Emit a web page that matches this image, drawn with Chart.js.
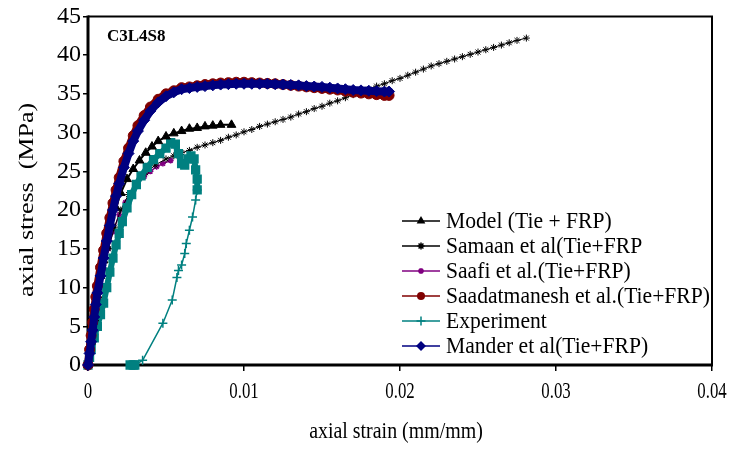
<!DOCTYPE html>
<html><head><meta charset="utf-8">
<script src="https://cdn.jsdelivr.net/npm/chart.js@4/dist/chart.umd.min.js"></script>
<style>html,body{margin:0;padding:0;background:#fff;}canvas{display:block;}</style>
</head><body>
<canvas id="c" width="745" height="450"></canvas>
<script>
// ---------- data ----------
const xTickValues = [0, 0.01, 0.02, 0.03, 0.04];
const xTickLabels = ['0', '0.01', '0.02', '0.03', '0.04'];
const yTickLabels = ['0','5','10','15','20','25','30','35','40','45'];

const modelStrain = [0,0.0002,0.0004,0.0006,0.0008,0.001,0.0012,0.0015,0.0018,0.0021,0.0025,0.0029,0.0033,0.0037,0.0041,0.0045,0.005,0.0055,0.006,0.0065,0.007,0.0075,0.008,0.0085,0.0092];
const modelStress = [0,3,6,9,11.5,13.5,15.3,18,20.3,22.2,24,25.3,26.4,27.4,28.2,28.9,29.5,29.9,30.2,30.5,30.6,30.8,30.9,31.0,31.0];

const samaanStrain = [0,0.0002,0.0004,0.0007,0.001,0.0013,0.0017,0.0021,0.0026,0.0031,0.0037,0.0043,0.005,0.0055,0.006,0.0065,0.007,0.0075,0.008,0.0085,0.009,0.0095,0.01,0.0105,0.011,0.0115,0.012,0.0125,0.013,0.0135,0.014,0.0145,0.015,0.0155,0.016,0.0165,0.017,0.0175,0.018,0.0185,0.019,0.0195,0.02,0.0205,0.021,0.0215,0.022,0.0225,0.023,0.0235,0.024,0.0245,0.025,0.0255,0.026,0.0265,0.027,0.0275,0.0281];
const samaanStress = [0,3,6,9.5,12.5,15,17.8,20,22,23.5,24.8,25.8,26.6,27.0,27.4,27.7,28.1,28.4,28.7,29.0,29.4,29.7,30.1,30.4,30.8,31.1,31.4,31.7,32.0,32.4,32.7,33.1,33.4,33.8,34.1,34.5,34.9,35.2,35.6,36.0,36.3,36.7,37.0,37.4,37.8,38.2,38.6,38.9,39.2,39.5,39.8,40.1,40.4,40.7,41.0,41.3,41.6,41.9,42.2];

const saafiStrain = [0,0.0001,0.0002,0.0004,0.0006,0.0008,0.001,0.0013,0.0016,0.002,0.0024,0.0028,0.0032,0.0036,0.004,0.0044,0.0048,0.0053];
const saafiStress = [0,1.5,3,5.5,8,10.3,12.4,15,17.2,19.4,21,22.3,23.4,24.3,25,25.6,26,26.4];

const saadStrain = [0,0.0001,0.0002,0.0003,0.0004,0.0005,0.0006,0.0008,0.001,0.0012,0.0014,0.0016,0.0018,0.002,0.0023,0.0026,0.0029,0.0032,0.0036,0.004,0.0045,0.005,0.0055,0.006,0.0065,0.007,0.0075,0.008,0.0085,0.009,0.0095,0.01,0.0105,0.011,0.0115,0.012,0.0125,0.013,0.0135,0.014,0.0145,0.015,0.0155,0.016,0.0165,0.017,0.0175,0.018,0.0185,0.019,0.0193];
const saadStress = [0,2,3.8,5.5,7.2,8.8,10.2,12.6,14.8,17,19,20.9,22.6,24.2,26.3,28,29.6,30.9,32.2,33.3,34.3,35.0,35.4,35.8,35.9,36.05,36.2,36.3,36.4,36.45,36.5,36.5,36.45,36.4,36.35,36.3,36.2,36.1,36.0,35.9,35.8,35.7,35.6,35.5,35.35,35.2,35.1,35.0,34.9,34.8,34.8];

const expLoadStrain = [0,0.0001,0.0002,0.0004,0.0006,0.0008,0.001,0.0012,0.0014,0.0016,0.0018,0.002,0.0022,0.0025,0.0028,0.0031,0.0034,0.0038,0.0042,0.0046,0.005,0.0053,0.0056,0.0058,0.006,0.0062,0.0064,0.0066,0.0068,0.0069,0.007,0.007];
const expLoadStress = [0,1,2,3.5,5,6.5,8,10,12,13.8,15.5,17,18.5,20.3,22,23.3,24.4,25.5,26.5,27.3,28,28.7,28.5,27.3,26.0,25.8,26.6,27.0,26.6,25.2,24,22.6];
const expUnloadStrain = [0.007,0.0069,0.0067,0.0065,0.0063,0.0062,0.006,0.0058,0.0057,0.0054,0.0048,0.0035,0.003];
const expUnloadStress = [22.6,21.3,19.1,17.4,15.7,14.4,12.9,12.2,11.3,8.4,5.4,0.6,0];
const expTailStrain = [0.003,0.0029,0.0027];
const expTailStress = [0,0,0];

const manderStrain = [0,0.0001,0.0002,0.0003,0.0004,0.0005,0.0006,0.0008,0.001,0.0012,0.0014,0.0016,0.0018,0.002,0.0023,0.0026,0.0029,0.0032,0.0036,0.004,0.0045,0.005,0.0055,0.006,0.0065,0.007,0.0075,0.008,0.0085,0.009,0.0095,0.01,0.0105,0.011,0.0115,0.012,0.0125,0.013,0.0135,0.014,0.0145,0.015,0.0155,0.016,0.0165,0.017,0.0175,0.018,0.0185,0.019,0.0193];
const manderStress = [0,1.5,3,4.5,6.2,7.8,9.3,11.5,13.8,16,18,20,21.8,23.4,25.5,27.3,28.9,30.2,31.6,32.8,33.9,34.7,35.2,35.6,35.75,35.9,36.0,36.1,36.2,36.25,36.3,36.3,36.3,36.3,36.3,36.25,36.2,36.15,36.1,36.0,35.95,35.9,35.8,35.7,35.6,35.5,35.45,35.4,35.35,35.3,35.3];

// ---------- build ----------
const xy = (xs, ys) => xs.map((x, i) => ({x: x, y: ys[i]}));
const expStrain = expLoadStrain.concat(expUnloadStrain, expTailStrain);
const expStress = expLoadStress.concat(expUnloadStress, expTailStress);
const nLoad = expLoadStrain.length, nUnload = expUnloadStrain.length;
const isUnload = (i) => i >= nLoad && i < nLoad + nUnload;

const SERIF = '"Liberation Serif", "Times New Roman", serif';

function ds(label, data, color, style, radius, bw, lw, order, legendStyle) {
  return {
    label: label, data: data, showLine: true, borderColor: color, backgroundColor: color,
    borderWidth: lw, pointStyle: style, pointRadius: radius, pointBorderWidth: bw,
    pointBackgroundColor: color, pointBorderColor: color, tension: 0, clip: false,
    borderJoinStyle: 'round', borderCapStyle: 'round',
    order: order, legendStyle: legendStyle || style, legendRadius: radius
  };
}

const datasets = [
  ds('Model (Tie + FRP)', xy(modelStrain, modelStress), '#000000', 'triangle', 5, 1, 2, 3),
  ds('Samaan et al(Tie+FRP', xy(samaanStrain, samaanStress), '#000000', 'star', 3.5, 1, 1, 5),
  ds('Saafi et al.(Tie+FRP)', xy(saafiStrain, saafiStress), '#800080', 'star', 3, 1.5, 1.5, 6),
  ds('Saadatmanesh et al.(Tie+FRP)', xy(saadStrain, saadStress), '#800000', 'circle', 5, 1, 8, 2),
  ds('Experiment', xy(expStrain, expStress), '#008080',
     (c) => isUnload(c.dataIndex) ? 'cross' : 'rect', 5, 1.5, 1.5, 4, 'cross'),
  ds('Mander et al(Tie+FRP)', xy(manderStrain, manderStress), '#000080', 'rectRot', 5.5, 1, 8, 1)
];
datasets[4].pointRadius = (c) => isUnload(c.dataIndex) ? 4.5 : 5.5;
datasets[4].legendRadius = 4.5;
datasets[4].segment = { borderWidth: (c) => (c.p1DataIndex < nLoad || c.p0DataIndex >= nLoad + nUnload - 1) ? 6 : 1.5 };
datasets[3].legendRadius = 4; datasets[5].legendRadius = 5;

// ---------- helpers ----------
function marker(ctx, style, x, y, r, color) {
  ctx.save();
  ctx.fillStyle = color; ctx.strokeStyle = color; ctx.lineWidth = 1.5;
  ctx.beginPath();
  if (style === 'triangle') {
    ctx.moveTo(x, y - r); ctx.lineTo(x + r * 0.87, y + r * 0.5); ctx.lineTo(x - r * 0.87, y + r * 0.5); ctx.closePath(); ctx.fill();
  } else if (style === 'circle') {
    ctx.arc(x, y, r, 0, Math.PI * 2); ctx.fill();
  } else if (style === 'rectRot') {
    ctx.moveTo(x, y - r); ctx.lineTo(x + r, y); ctx.lineTo(x, y + r); ctx.lineTo(x - r, y); ctx.closePath(); ctx.fill();
  } else if (style === 'cross') {
    ctx.moveTo(x - r, y); ctx.lineTo(x + r, y); ctx.moveTo(x, y - r); ctx.lineTo(x, y + r); ctx.stroke();
  } else if (style === 'star') {
    ctx.moveTo(x - r, y); ctx.lineTo(x + r, y); ctx.moveTo(x, y - r); ctx.lineTo(x, y + r);
    const d = r * 0.7; ctx.moveTo(x - d, y - d); ctx.lineTo(x + d, y + d); ctx.moveTo(x - d, y + d); ctx.lineTo(x + d, y - d); ctx.stroke();
  }
  ctx.restore();
}
function text(ctx, s, x, y, font, sx, sy, align, rot) {
  ctx.save();
  ctx.translate(x, y);
  if (rot) ctx.rotate(rot);
  ctx.scale(sx, sy);
  ctx.font = font; ctx.textAlign = align; ctx.textBaseline = 'middle'; ctx.fillStyle = '#000';
  ctx.fillText(s, 0, 0);
  ctx.restore();
}

const framePlugin = {
  id: 'frame',
  beforeDatasetsDraw(chart) {
    const a = chart.chartArea, ctx = chart.ctx;
    ctx.save(); ctx.strokeStyle = '#000';
    ctx.lineWidth = 2;
    ctx.beginPath(); ctx.moveTo(a.left, a.top); ctx.lineTo(a.right, a.top); ctx.lineTo(a.right, a.bottom); ctx.stroke();
    ctx.lineWidth = 3;
    ctx.beginPath(); ctx.moveTo(a.left, a.top - 1); ctx.lineTo(a.left, a.bottom); ctx.lineTo(a.right + 1, a.bottom); ctx.stroke();
    ctx.restore();
  },
  afterDraw(chart) {
    const ctx = chart.ctx, a = chart.chartArea, xs = chart.scales.x;
    xTickValues.forEach((v, i) => {
      text(ctx, xTickLabels[i], xs.getPixelForValue(v), a.bottom + 27, '24px ' + SERIF, 0.7, 1, 'center');
    });
    text(ctx, 'axial strain (mm/mm)', (a.left + a.right) / 2 - 4, a.bottom + 67, '24px ' + SERIF, 0.83, 1, 'center');
    text(ctx, 'axial stress  (MPa)', 28, 200, '26px ' + SERIF, 1, 0.8, 'center', -Math.PI / 2);
    ctx.save(); ctx.font = 'bold 17px ' + SERIF; ctx.fillStyle = '#000'; ctx.textAlign = 'left'; ctx.textBaseline = 'alphabetic';
    ctx.fillText('C3L4S8', a.left + 19, a.top + 25); ctx.restore();
    chart.data.datasets.forEach((d, i) => {
      const y = 221 + i * 25;
      ctx.save(); ctx.strokeStyle = d.borderColor; ctx.lineWidth = 1.5;
      ctx.beginPath(); ctx.moveTo(402, y); ctx.lineTo(440, y); ctx.stroke(); ctx.restore();
      marker(ctx, d.legendStyle, 421, y, d.legendRadius, d.borderColor);
      text(ctx, d.label, 446, y + 1, '24px ' + SERIF, 0.9, 1, 'left');
    });
  }
};

new Chart(document.getElementById('c'), {
  type: 'scatter',
  data: { datasets: datasets },
  plugins: [framePlugin],
  options: {
    responsive: false, animation: false, events: [],
    layout: { padding: { left: 0, top: 16, right: 33, bottom: 0 } },
    plugins: { legend: { display: false }, tooltip: { enabled: false } },
    scales: {
      x: {
        type: 'linear', min: 0, max: 0.04,
        afterFit: (s) => { s.height = 85; },
        afterBuildTicks: (s) => { s.ticks = xTickValues.map(v => ({value: v})); },
        ticks: { display: false },
        grid: { display: true, drawOnChartArea: false, drawTicks: true, tickLength: 6, color: '#000', lineWidth: 1.5 },
        border: { display: false }
      },
      y: {
        type: 'linear', min: 0, max: 45,
        afterFit: (s) => { s.width = 88; },
        ticks: { stepSize: 5, padding: 2, color: '#000', font: { family: SERIF, size: 24 },
                 callback: (v, i) => yTickLabels[i] },
        grid: { display: true, drawOnChartArea: false, drawTicks: true, tickLength: 5, color: '#000', lineWidth: 1.5 },
        border: { display: false }
      }
    }
  }
});
</script>
</body></html>
